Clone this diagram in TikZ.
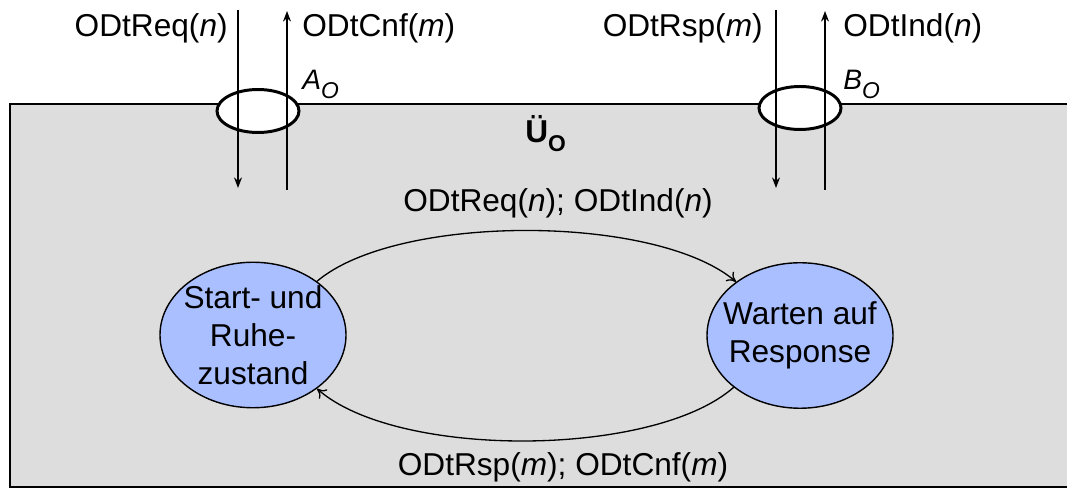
\documentclass[tikz,border=0pt]{standalone}
\usepackage{fontspec}
\setmainfont{Liberation Sans}
\usetikzlibrary{shapes.geometric, arrows.meta}
\definecolor{boxgray}{RGB}{221,221,221}
\definecolor{stateblue}{RGB}{170,191,255}
\newcommand{\portsub}[1]{\raisebox{-5pt}{\fontsize{13}{13}\selectfont #1}}
\begin{document}
\begin{tikzpicture}[font=\fontsize{18}{21.5}\selectfont]
    \useasboundingbox (0, 0) rectangle (21.34, 9.76);
    \draw[fill=boxgray, line width=1.1pt] (0.2, 0.02) rectangle (21.6, 7.68);

    \begin{scope}[every node/.style={ellipse, draw, fill=white, line width=1.7pt,
        minimum width=1.64cm, minimum height=0.86cm, inner sep=0}]
      \node (AO) at (5.16, 7.54) {};
      \node (BO) at (16.0, 7.6) {};
    \end{scope}
    \begin{scope}[every node/.style={ellipse, draw, fill=stateblue, line width=0.8pt,
        minimum width=3.72cm, minimum height=2.91cm, inner sep=-0.6cm, align=center}]
      \node (ruhe) at (5.06, 3.06) {Start- und\\Ruhe-\\zustand};
      \node (warten) at (16.0, 3.05) {Warten auf\\Response};
    \end{scope}
    \begin{scope}[every node/.style={inner sep=0}]
      \node[anchor=base east] (lreq) at (4.56, 9.02) {ODtReq(\textit{n})};
      \node[anchor=base west] (lcnf) at (6.04, 9.02) {ODtCnf(\textit{m})};
      \node[anchor=base east] (lrsp) at (15.26, 9.02) {ODtRsp(\textit{m})};
      \node[anchor=base west] (lind) at (16.86, 9.02) {ODtInd(\textit{n})};
      \node[anchor=base west, font=\fontsize{16}{16}\selectfont] (aname) at (6.04, 7.96)
          {\textit{A}\portsub{\textit{O}}};
      \node[anchor=base west, font=\fontsize{16}{16}\selectfont] (bname) at (16.86, 7.96)
          {\textit{B}\portsub{\textit{O}}};
      \node[anchor=base west] (uname) at (10.5, 6.9) {\textbf{Ü}\portsub{\textbf{O}}};
      \node (lfwd) at (11.16, 5.7) {ODtReq(\textit{n}); ODtInd(\textit{n})};
      \node (lback) at (11.26, 0.42) {ODtRsp(\textit{m}); ODtCnf(\textit{m})};
    \end{scope}

    \coordinate (reqin) at (4.76, 9.56);
    \coordinate (reqout) at (4.76, 6.0);
    \coordinate (cnfin) at (5.74, 5.96);
    \coordinate (cnfout) at (5.74, 9.54);
    \coordinate (rspin) at (15.52, 9.56);
    \coordinate (rspout) at (15.52, 6.0);
    \coordinate (indin) at (16.5, 5.96);
    \coordinate (indout) at (16.5, 9.54);

    \draw[-{Stealth[length=6pt, width=4.5pt]}, line width=1.1pt] (reqin) -- (reqout);
    \draw[-{Stealth[length=6pt, width=4.5pt]}, line width=1.1pt] (cnfin) -- (cnfout);
    \draw[-{Stealth[length=6pt, width=4.5pt]}, line width=1.1pt] (rspin) -- (rspout);
    \draw[-{Stealth[length=6pt, width=4.5pt]}, line width=1.1pt] (indin) -- (indout);
    \draw[-{To[length=5pt, width=7pt]}, line width=0.75pt] (ruhe.40)
        .. controls +(1.6, 1.36) and +(-1.6, 1.36) .. (warten.140);
    \draw[-{To[length=5pt, width=7pt]}, line width=0.75pt] (warten.218)
        .. controls +(-1.6, -1.41) and +(1.6, -1.41) .. (ruhe.320);
\end{tikzpicture}
\end{document}
